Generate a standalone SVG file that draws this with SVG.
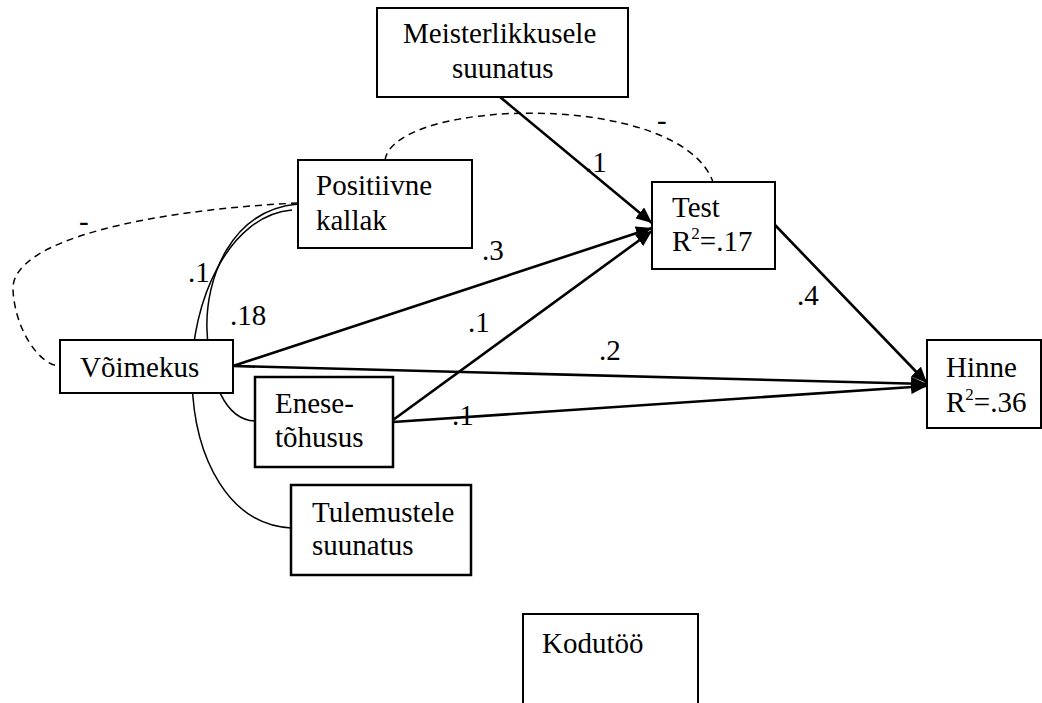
<svg xmlns="http://www.w3.org/2000/svg" width="1042" height="703" viewBox="0 0 1042 703">
<style>
text{font-size:29px;fill:#000}
.box{fill:#fff;stroke:#000;stroke-width:2}
.boxb{fill:#fff;stroke:#000;stroke-width:2.5}
.arr{fill:none;stroke:#000;stroke-width:2.6}
.dash{fill:none;stroke:#000;stroke-width:1.5;stroke-dasharray:7,5}
.cor{fill:none;stroke:#000;stroke-width:1.5}
.sup{font-size:17px}
</style>
<defs>
<marker id="ah" viewBox="0 0 16 14" markerWidth="16" markerHeight="14" refX="16" refY="7" orient="auto" markerUnits="userSpaceOnUse">
<path d="M0,0 L16,7 L0,14 z" fill="#000"/>
</marker>
</defs>
<rect width="1042" height="703" fill="#fff"/>
<g font-family="Liberation Serif, serif">
<g id="connectors">
<path class="dash" d="M385,160 C395,98 680,90 713,182"/>
<path class="dash" d="M298,203 C150,210 10,240 13,290 C15,330 40,366 60,366"/>
<path class="cor" d="M298,204 C230,210 205,280 207,330 C209,380 225,420 255,421"/>
<path class="cor" d="M292,210 C230,215 190,300 192,380 C194,460 230,525 291,528"/>
<path class="arr" d="M500,97 L652,223" marker-end="url(#ah)"/>
<path class="arr" d="M233,366 L652,228" marker-end="url(#ah)"/>
<path class="arr" d="M393,420 L652,231" marker-end="url(#ah)"/>
<path class="arr" d="M775,225 L927,383" marker-end="url(#ah)"/>
<path class="arr" d="M233,366 L927,384" marker-end="url(#ah)"/>
<path class="arr" d="M393,422 L927,386" marker-end="url(#ah)"/>
<text x="585" y="172">.1</text>
<text x="482" y="260">.3</text>
<text x="468" y="332">.1</text>
<text x="599" y="360">.2</text>
<text x="452" y="425">.1</text>
<text x="797" y="305">.4</text>
<text x="188" y="282">.1</text>
<text x="230" y="325">.18</text>
<text x="79" y="231">-</text>
<text x="657" y="130">-</text>
</g>
<g id="meisterlikkusele">
<rect class="box" x="377" y="8" width="251" height="89"/>
<text x="403" y="43">Meisterlikkusele</text>
<text x="452" y="78">suunatus</text>
</g>
<g id="positiivne">
<rect class="box" x="298" y="160" width="174" height="88"/>
<text x="316" y="195">Positiivne</text>
<text x="316" y="230">kallak</text>
</g>
<g id="test">
<rect class="box" x="652" y="182" width="123" height="87"/>
<text x="672" y="217">Test</text>
<text x="672" y="251">R<tspan class="sup" dy="-12">2</tspan><tspan dy="12">=.17</tspan></text>
</g>
<g id="voimekus">
<rect class="box" x="60" y="340" width="173" height="53"/>
<text x="80" y="377">Võimekus</text>
</g>
<g id="hinne">
<rect class="box" x="927" y="340" width="114" height="88"/>
<text x="946" y="377">Hinne</text>
<text x="946" y="412">R<tspan class="sup" dy="-12">2</tspan><tspan dy="12">=.36</tspan></text>
</g>
<g id="enese">
<rect class="boxb" x="255" y="377" width="138" height="90"/>
<text x="275" y="413">Enese-</text>
<text x="275" y="447">tõhusus</text>
</g>
<g id="tulemustele">
<rect class="boxb" x="291" y="485" width="180" height="90"/>
<text x="312" y="522">Tulemustele</text>
<text x="312" y="555">suunatus</text>
</g>
<g id="kodutoo">
<rect class="box" x="523" y="614" width="175" height="95"/>
<text x="542" y="653">Kodutöö</text>
</g>
</g>
</svg>
